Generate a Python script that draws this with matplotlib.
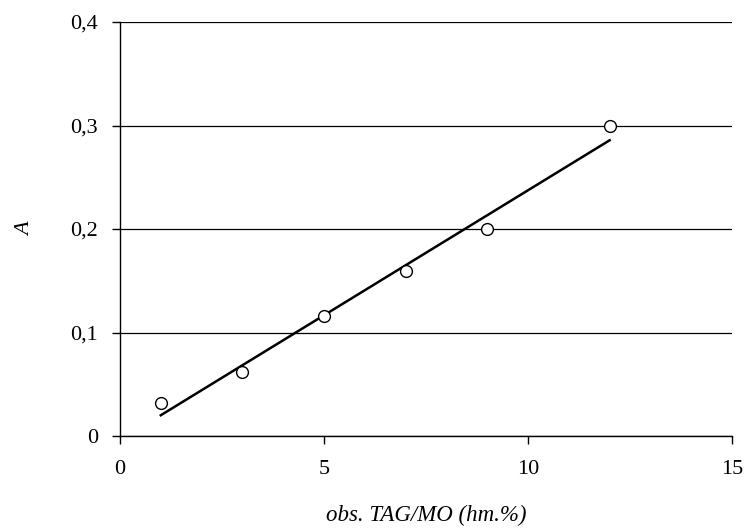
import numpy as np
import matplotlib
matplotlib.use("Agg")
import matplotlib.pyplot as plt

x_obs = [1, 3, 5, 7, 9, 12]
a_vals = [0.032, 0.062, 0.116, 0.159, 0.200, 0.300]
x_ticks = [0, 5, 10, 15]
y_ticks = [0, 0.1, 0.2, 0.3, 0.4]
y_tick_labels = ["0", "0,1", "0,2", "0,3", "0,4"]

plt.rcParams['font.family'] = ['Liberation Serif', 'DejaVu Serif']

fig = plt.figure(figsize=(7.44, 5.32), dpi=100)
ax = fig.add_axes([120/744, 1-436/532, (732-120)/744, (436-22)/532])

coef = np.polyfit(x_obs, a_vals, 1)
xf = np.array([min(x_obs), max(x_obs)])
ax.plot(xf, np.polyval(coef, xf), color='black', lw=1.8, zorder=3)
ax.plot(x_obs, a_vals, linestyle='none', marker='o', ms=8.5, mfc='white',
        mec='black', mew=1.0, zorder=4)

ax.set_xlim(0, 15)
ax.set_ylim(0, 0.4)
ax.set_xticks(x_ticks)
ax.set_xticklabels([str(t) for t in x_ticks])
ax.set_yticks(y_ticks)
ax.set_yticklabels(y_tick_labels)
ax.yaxis.grid(True, color='black', lw=0.9)
ax.set_axisbelow(True)
for s in ['top', 'right']:
    ax.spines[s].set_visible(False)
for s in ['left', 'bottom']:
    ax.spines[s].set_color('black')
    ax.spines[s].set_linewidth(1.0)
ax.tick_params(axis='both', direction='out', length=6, width=1.0, labelsize=16, colors='black')
ax.tick_params(axis='x', pad=11)
ax.tick_params(axis='y', pad=10)

ax.set_xlabel("obs. TAG/MO (hm.%)", fontsize=16.5, style='italic', labelpad=19)
ax.set_ylabel("A", fontsize=16, style='italic', labelpad=25)

fig.savefig("out.png", dpi=100)
